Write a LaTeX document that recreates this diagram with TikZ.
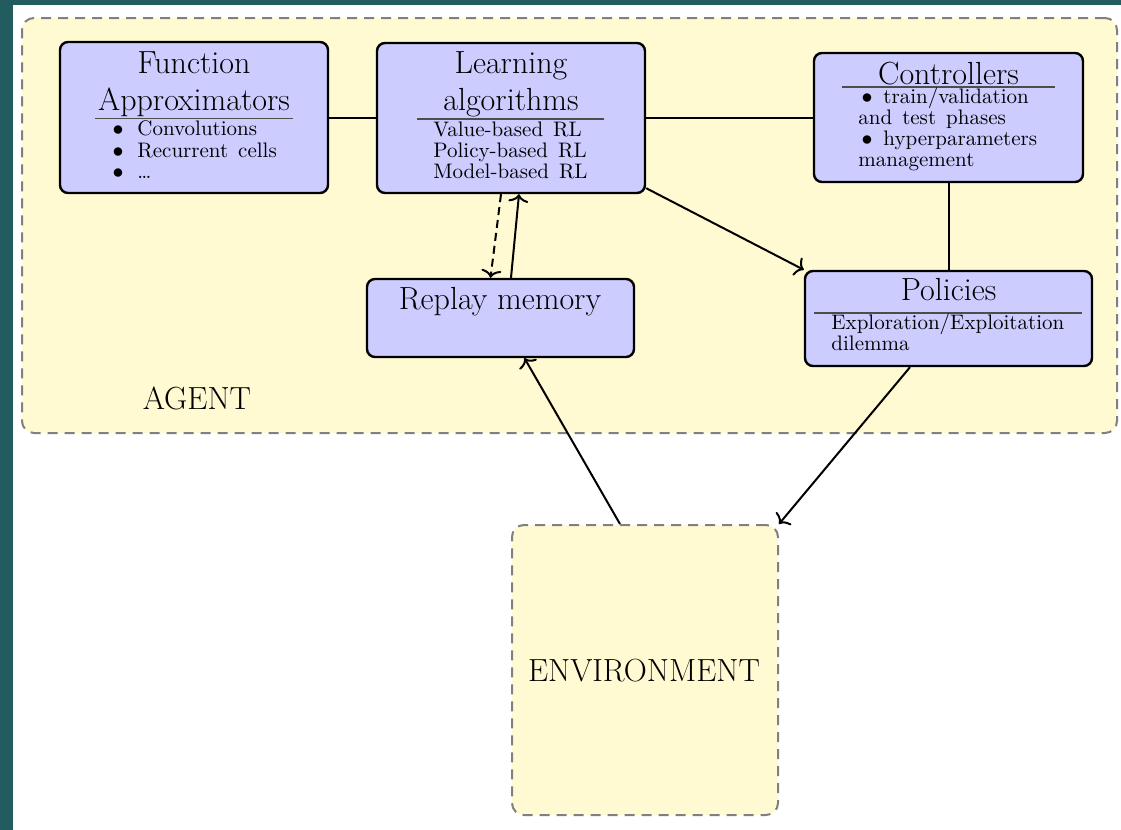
\documentclass[tikz,border=0pt]{standalone}
\usepackage{fontspec}
\setmainfont{Latin Modern Roman}
\usetikzlibrary{arrows.meta,calc}

\definecolor{bgteal}{RGB}{35,92,94}
\definecolor{agentfill}{RGB}{255,250,210}
\definecolor{boxfill}{RGB}{204,204,255}
\definecolor{dashgray}{RGB}{128,128,128}

\tikzset{
  container/.style={draw=dashgray, fill=agentfill, line width=1pt,
    dash pattern=on 5pt off 3.5pt, rounded corners=6pt, inner sep=0pt},
  block/.style={draw=black, fill=boxfill, line width=1.2pt,
    rounded corners=4pt, inner sep=0pt},
  conn/.style={line width=1pt, draw=black},
  arr/.style={conn, -{To[length=4pt,width=10pt]}},
  dasharr/.style={arr, dash pattern=on 4pt off 2.5pt},
  sep/.style={draw=black!70, line width=0.6pt},
  title/.style={font={\fontsize{16}{19}\selectfont}, anchor=base, inner sep=0pt},
  body/.style={font={\fontsize{10.5}{12}\selectfont\spaceskip=5pt plus 1pt minus 1pt},
    anchor=base west, inner sep=0pt},
  dot/.style={font=\fontsize{10.5}{12}\selectfont, anchor=base, inner sep=0pt},
}

\begin{document}
\begin{tikzpicture}[x=0.5pt,y=-0.5pt]
\useasboundingbox (0,0) rectangle (1121,830);

% page frame
\fill[bgteal] (0,0) rectangle (13,830);
\fill[bgteal] (0,0) rectangle (1121,5);
\fill[white] (13,5) rectangle (1121,830);

% agent and environment areas
\node[container, minimum width=547.5pt, minimum height=207.5pt] (agent) at (569.5,225.5) {};
\node[container, minimum width=133pt, minimum height=145pt] (env) at (645,670) {};
\node[title] (agentlbl) at (197,409) {AGENT};
\node[title] (envlbl) at (644,681) {ENVIRONMENT};

% component blocks
\node[block, minimum width=134pt, minimum height=75.5pt] (fa) at (194,117.5) {};
\node[block, minimum width=134pt, minimum height=75pt] (la) at (511,118) {};
\node[block, minimum width=134.5pt, minimum height=64.5pt] (ctrl) at (948.5,117.5) {};
\node[block, minimum width=133.5pt, minimum height=39pt] (rm) at (500.5,318) {};
\node[block, minimum width=143.5pt, minimum height=47.5pt] (pol) at (948.5,318.5) {};

% function approximators
\node[title] (fa1) at (194,73) {Function};
\node[title] (fa2) at (194,111) {Approximators};
\draw[sep] (95,118.5) -- (293,118.5);
\node[dot] (fab1) at (118,135) {$\bullet$};
\node[dot] (fab2) at (118,157) {$\bullet$};
\node[dot] (fab3) at (118,178) {$\bullet$};
\node[body] (fat1) at (137,135) {Convolutions};
\node[body] (fat2) at (137,157) {Recurrent cells};
\node[body] (fat3) at (137,178) {\dots};

% learning algorithms
\node[title] (la1) at (511,73) {Learning};
\node[title] (la2) at (511,111) {algorithms};
\draw[sep] (417,119) -- (604,119);
\node[body] (lat1) at (433,136) {Value-based RL};
\node[body] (lat2) at (433,157) {Policy-based RL};
\node[body] (lat3) at (433,178) {Model-based RL};

% controllers
\node[title] (ct1) at (948.5,84) {Controllers};
\draw[sep] (842,87) -- (1055,87);
\node[dot] (ctb1) at (867,103) {$\bullet$};
\node[body] (ctt1) at (883,103) {train/validation};
\node[body] (ctt2) at (858,124) {and test phases};
\node[dot] (ctb2) at (867,145) {$\bullet$};
\node[body] (ctt3) at (883,145) {hyperparameters};
\node[body] (ctt4) at (858,166.5) {management};

% replay memory
\node[title] (rm1) at (500,309) {Replay memory};

% policies
\node[title] (po1) at (948.5,300) {Policies};
\draw[sep] (814,313) -- (1082,313);
\node[body] (pot1) at (831,329) {Exploration/Exploitation};
\node[body] (pot2) at (831,350) {dilemma};

% connections
\draw[conn] (fa.east) -- (fa.east -| la.west);
\draw[conn] (la.east) -- (la.east -| ctrl.west);
\draw[conn] (ctrl.south) -- (pol.north);
\draw[arr] ($(la.south east)+(0,-6)$) -- (pol.north west);
\draw[dasharr] ($(la.south)+(-10,0)$) -- ($(rm.north)+(-10,0)$);
\draw[arr] ($(rm.north)+(10.5,0)$) -- ($(la.south)+(8,0)$);
\draw[arr] ($(env.north)+(-25,0)$) -- ($(rm.south)+(24,0)$);
\draw[arr] ($(pol.south)+(-38.5,0)$) -- (env.north east);
\end{tikzpicture}
\end{document}
